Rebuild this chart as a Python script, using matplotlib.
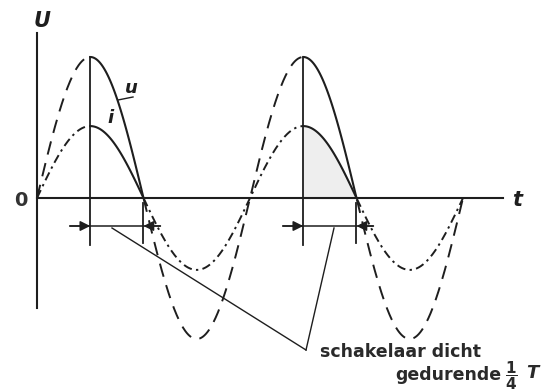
import numpy as np
import matplotlib
matplotlib.use('Agg')
import matplotlib.pyplot as plt

# curve data: amplitudes (U peak = 1) and phase ranges where switch is closed
u_amp = 1.0
i_amp = 0.51
n_periods = 2
closed_ranges = [(np.pi / 2, np.pi), (5 * np.pi / 2, 3 * np.pi)]

axis_labels = ['U', 't', '0']
curve_labels = ['u', 'i']
note_line1 = 'schakelaar dicht'
note_line2 = 'gedurende'
note_frac = r'$\mathbf{\dfrac{1}{4}}$'
note_T = 'T'

ink = '#1e1e1e'

# pixel layout of the figure (origin of axes at px (37, 198))
SX, SY = 33.9, 141.0
X0, Y0 = 37, 198


def P(x, y):
    # pixel -> data
    return (x - X0) / SX, (Y0 - y) / SY


fig = plt.figure(figsize=(5.5, 3.91), dpi=100)
ax = fig.add_axes([0, 0, 1, 1])
ax.set_xlim(-X0 / SX, (550 - X0) / SX)
ax.set_ylim(-(391 - Y0) / SY, Y0 / SY)
ax.axis('off')

phi = np.linspace(0, n_periods * 2 * np.pi, 800)
u = u_amp * np.sin(phi)
i = i_amp * np.sin(phi)

closed = np.zeros_like(phi, dtype=bool)
for a, b in closed_ranges:
    closed |= (phi >= a) & (phi <= b)

# open parts (dashed)
u_open = np.where(closed, np.nan, u)
i_open = np.where(closed, np.nan, i)
ax.plot(phi, u_open, color=ink, lw=1.4, linestyle=(0, (7, 4.5)))
ax.plot(phi, i_open, color=ink, lw=1.4, linestyle=(0, (4.5, 2.2, 1.2, 2.2)))

# closed parts (solid) + shading of the second pulse
for k, (a, b) in enumerate(closed_ranges):
    m = (phi >= a) & (phi <= b)
    ax.plot(phi[m], u[m], color=ink, lw=1.5)
    ax.plot(phi[m], i[m], color=ink, lw=1.5)
    if k == 1:
        ax.fill_between(phi[m], 0, i[m], color='#eeeeee', zorder=0)
    # vertical lines at start / end of closed interval
    ax.plot([a, a], [u_amp * np.sin(a), P(0, 245)[1]], color=ink, lw=1.3)
    ax.plot([b, b], [P(0, 203)[1], P(0, 243)[1]], color=ink, lw=1.3)

# axes
x_end = P(503, 0)[0]
ax.plot([0, x_end], [0, 0], color=ink, lw=1.5)
ax.plot([0, 0], [P(0, 308)[1], P(0, 33)[1]], color=ink, lw=1.5)

ax.text(*P(42, 21), axis_labels[0], fontsize=15, fontweight='bold', fontstyle='italic',
        ha='center', va='center', color=ink)
ax.text(*P(517, 200), axis_labels[1], fontsize=15, fontweight='bold', fontstyle='italic',
        ha='center', va='center', color=ink)
ax.text(*P(21, 200), axis_labels[2], fontsize=14, fontweight='bold', ha='center',
        va='center', color='#333333')

# curve labels
ax.text(*P(131, 88), curve_labels[0], fontsize=13, fontweight='bold', fontstyle='italic',
        ha='center', va='center', color=ink)
ax.text(*P(111, 118), curve_labels[1], fontsize=13, fontweight='bold', fontstyle='italic',
        ha='center', va='center', color=ink)
ax.plot(*zip(P(118, 100), P(133, 97)), color=ink, lw=1.0)

# brackets with arrows showing the closed interval
bracket_y = P(0, 226)[1]
for a, b in closed_ranges:
    ax.plot([a - 0.6, b + 0.5], [bracket_y, bracket_y], color=ink, lw=1.1)
    ax.annotate('', xy=(a, bracket_y), xytext=(a - 0.6, bracket_y),
                arrowprops=dict(arrowstyle='-|>', color=ink, lw=1.1,
                                mutation_scale=15, shrinkA=0, shrinkB=0))
    ax.annotate('', xy=(b, bracket_y), xytext=(b + 0.5, bracket_y),
                arrowprops=dict(arrowstyle='-|>', color=ink, lw=1.1,
                                mutation_scale=15, shrinkA=0, shrinkB=0))

# leader lines to the note
tip = P(306, 350)
ax.plot(*zip(P(112, 228), tip), color=ink, lw=1.0)
ax.plot(*zip(P(334, 228), tip), color=ink, lw=1.0)

txt = dict(fontsize=12.5, fontweight='bold', va='center', color='#2a2a2a')
ax.text(*P(320, 352), note_line1, ha='left', **txt)
ax.text(*P(395, 375), note_line2, ha='left', **txt)
ax.text(*P(511, 376), note_frac, ha='center', fontsize=11, va='center', color='#2a2a2a')
ax.text(*P(532, 373), note_T, ha='center', fontsize=13, fontstyle='italic',
        fontweight='bold', va='center', color='#2a2a2a')

fig.savefig('out.png', dpi=100, facecolor='white')
